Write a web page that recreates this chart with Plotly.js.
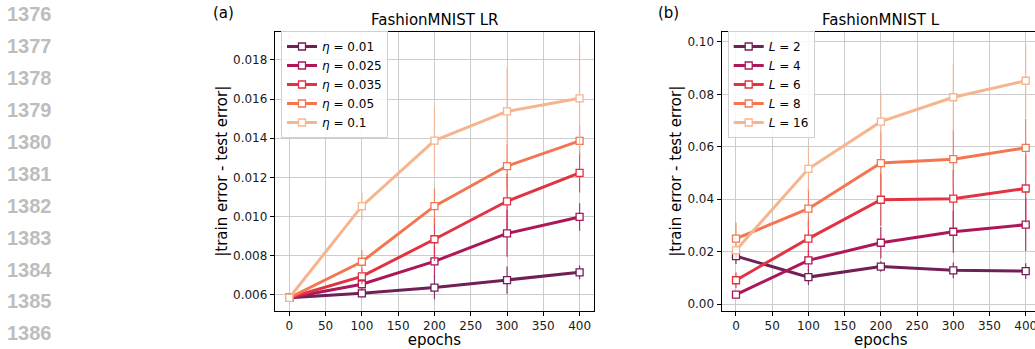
<!DOCTYPE html>
<html>
<head>
<meta charset="utf-8">
<script src="https://cdn.plot.ly/plotly-3.0.1.min.js"></script>
<style>
html,body{margin:0;padding:0;overflow:hidden;background:#fff;}
#chart{width:1050px;height:349px;}
</style>
</head>
<body>
<div id="chart"></div>
<script>
// ---- data ----
const epochs = [0, 100, 200, 300, 400];

// (a) FashionMNIST LR
const lrNames = ['<i>η</i> = 0.01', '<i>η</i> = 0.025', '<i>η</i> = 0.035', '<i>η</i> = 0.05', '<i>η</i> = 0.1'];
const lr_001  = [0.00585, 0.00608, 0.00637, 0.00675, 0.00715];
const lr_0025 = [0.00585, 0.00654, 0.00771, 0.00914, 0.00998];
const lr_0035 = [0.00585, 0.00694, 0.00884, 0.01078, 0.01223];
const lr_005  = [0.00585, 0.00769, 0.01053, 0.01258, 0.01387];
const lr_01   = [0.00585, 0.01053, 0.01388, 0.01537, 0.01604];
const lrErr_001  = [0.0001, 0.0002, 0.0006, 0.0007, 0.00035];
const lrErr_0025 = [0.0001, 0.0003, 0.0008, 0.0012, 0.0007];
const lrErr_0035 = [0.0001, 0.0004, 0.0011, 0.0014, 0.0010];
const lrErr_005  = [0.0001, 0.0006, 0.0009, 0.0011, 0.0008];
const lrErr_01   = [0.0001, 0.0007, 0.0017, 0.0022, 0.0027];

// (b) FashionMNIST L
const lNames = ['<i>L</i> = 2', '<i>L</i> = 4', '<i>L</i> = 6', '<i>L</i> = 8', '<i>L</i> = 16'];
const l_2  = [0.0183, 0.0103, 0.0143, 0.0129, 0.0126];
const l_4  = [0.0036, 0.0167, 0.0234, 0.0276, 0.0303];
const l_6  = [0.0091, 0.0250, 0.0398, 0.0402, 0.0441];
const l_8  = [0.0250, 0.0364, 0.0538, 0.0553, 0.0596];
const l_16 = [0.0205, 0.0516, 0.0696, 0.0789, 0.0852];
const lErr_2  = [0.003, 0.003, 0.002, 0.003, 0.003];
const lErr_4  = [0.001, 0.004, 0.006, 0.008, 0.010];
const lErr_6  = [0.003, 0.007, 0.010, 0.011, 0.013];
const lErr_8  = [0.006, 0.008, 0.012, 0.011, 0.011];
const lErr_16 = [0.003, 0.0085, 0.011, 0.013, 0.014];

const lineNumbers = ['1376','1377','1378','1379','1380','1381','1382','1383','1384','1385','1386'];

// ---- styling ----
const colors = ['#701f57', '#ad1759', '#e13342', '#f37651', '#f6b48f'];
const W = 1050, H = 349;
const px = v => v / W;
const py = v => 1 - v / H;
const FONT = 'DejaVu Sans, sans-serif';

function hexA(hex, a) {
  const n = parseInt(hex.slice(1), 16);
  return `rgba(${(n>>16)&255},${(n>>8)&255},${n&255},${a})`;
}

function mk(y, err, name, i, xa, ya, leg) {
  return {
    type: 'scatter', mode: 'lines+markers',
    x: epochs, y: y, name: name,
    xaxis: xa, yaxis: ya, legend: leg,
    line: {color: colors[i], width: 3},
    marker: {symbol: 'square', size: 7, color: '#ffffff', line: {color: colors[i], width: 1.3}},
    error_y: {type: 'data', array: err, visible: true, color: hexA(colors[i], 0.85), thickness: 1.2, width: 0}
  };
}

const lrSeries = [lr_001, lr_0025, lr_0035, lr_005, lr_01];
const lrErrs = [lrErr_001, lrErr_0025, lrErr_0035, lrErr_005, lrErr_01];
const lSeries = [l_2, l_4, l_6, l_8, l_16];
const lErrs = [lErr_2, lErr_4, lErr_6, lErr_8, lErr_16];

const traces = [];
lrSeries.forEach((s, i) => traces.push(mk(s, lrErrs[i], lrNames[i], i, 'x', 'y', 'legend')));
lSeries.forEach((s, i) => traces.push(mk(s, lErrs[i], lNames[i], i, 'x2', 'y2', 'legend2')));

const axisCommon = {
  showline: true, mirror: true, linecolor: '#000', linewidth: 1,
  ticks: 'outside', ticklen: 4, tickwidth: 1, tickcolor: '#000',
  showgrid: true, gridcolor: '#cccccc', gridwidth: 1, zeroline: false,
  tickfont: {family: FONT, size: 12, color: '#1a1a1a'}
};
const xCommon = Object.assign({}, axisCommon, {
  range: [-20, 420], tickmode: 'linear', tick0: 0, dtick: 50,
  title: {text: 'epochs', font: {family: FONT, size: 15, color: '#000'}, standoff: 7}
});
const yTitle = {text: '|train error - test error|', font: {family: FONT, size: 15, color: '#000'}};

const legendCommon = {
  xanchor: 'left', yanchor: 'top',
  bgcolor: 'rgba(255,255,255,0.85)', bordercolor: '#d0d0d0', borderwidth: 1,
  font: {family: FONT, size: 12, color: '#000'}, tracegroupgap: 0
};

const layout = {
  width: W, height: H,
  margin: {l: 0, r: 0, t: 0, b: 0},
  paper_bgcolor: '#fff', plot_bgcolor: '#fff',
  font: {family: FONT, color: '#000'},
  xaxis: Object.assign({}, xCommon, {domain: [px(274.8), px(594.1)], anchor: 'y'}),
  yaxis: Object.assign({}, axisCommon, {domain: [py(310.5), py(32)], anchor: 'x',
    range: [0.0052, 0.01943], tickmode: 'linear', tick0: 0.006, dtick: 0.002, tickformat: '.3f',
    title: Object.assign({}, yTitle)}),
  xaxis2: Object.assign({}, xCommon, {domain: [px(721.5), px(1040.2)], anchor: 'y2'}),
  yaxis2: Object.assign({}, axisCommon, {domain: [py(310.5), py(32)], anchor: 'x2',
    range: [-0.00244, 0.1038], tickmode: 'linear', tick0: 0, dtick: 0.02, tickformat: '.2f',
    title: Object.assign({}, yTitle)}),
  legend: Object.assign({}, legendCommon, {x: px(281), y: py(31)}),
  legend2: Object.assign({}, legendCommon, {x: px(727.7), y: py(31)}),
  showlegend: true,
  annotations: [
    {text: 'FashionMNIST LR', xref: 'paper', yref: 'paper', x: px(434.5), y: py(20), xanchor: 'center', yanchor: 'middle', showarrow: false, font: {family: FONT, size: 15, color: '#000'}},
    {text: 'FashionMNIST L', xref: 'paper', yref: 'paper', x: px(880.9), y: py(20), xanchor: 'center', yanchor: 'middle', showarrow: false, font: {family: FONT, size: 15, color: '#000'}},
    {text: '(a)', xref: 'paper', yref: 'paper', x: px(211), y: py(12.7), xanchor: 'left', yanchor: 'middle', showarrow: false, font: {family: FONT, size: 15, color: '#000'}},
    {text: '(b)', xref: 'paper', yref: 'paper', x: px(656), y: py(12.7), xanchor: 'left', yanchor: 'middle', showarrow: false, font: {family: FONT, size: 15, color: '#000'}}
  ]
};

lineNumbers.forEach((t, i) => {
  layout.annotations.push({text: '<b>' + t + '</b>', xref: 'paper', yref: 'paper',
    x: px(5), y: py(14.3 + i * 31.9), xanchor: 'left', yanchor: 'middle', showarrow: false,
    font: {family: 'Liberation Sans, Arial, sans-serif', size: 20, color: '#bdbdbd'}});
});

Plotly.newPlot('chart', traces, layout, {displayModeBar: false, staticPlot: true});
</script>
</body>
</html>
